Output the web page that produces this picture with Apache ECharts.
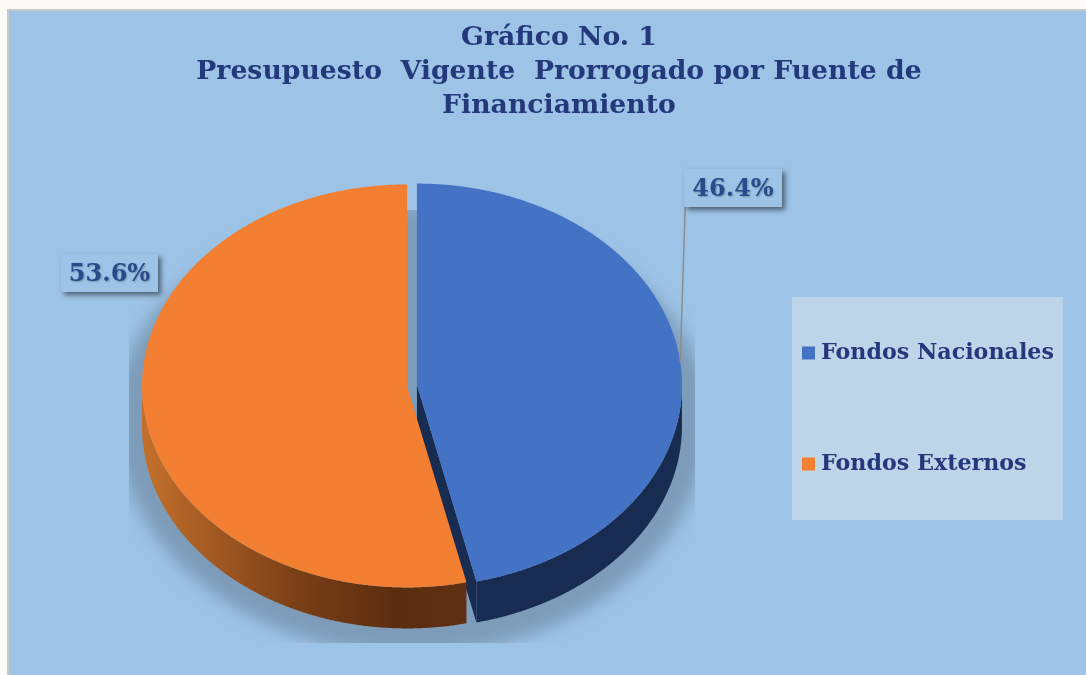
<!DOCTYPE html>
<html>
<head>
<meta charset="utf-8">
<style>html,body{margin:0;padding:0;background:#fcfbf7}#c{width:1086px;height:675px}</style>
<script src="https://cdn.jsdelivr.net/npm/echarts@6/dist/echarts.min.js"></script>
</head>
<body>
<div id="c"></div>
<script>
const titleLines = ['Gráfico No. 1', 'Presupuesto  Vigente  Prorrogado por Fuente de', 'Financiamiento'];
const categories = ['Fondos Nacionales', 'Fondos Externos'];
const values = [46.4, 53.6];
const colors = ['#4472C4', '#F27F32'];

const SERIF = 'Georgia, "DejaVu Serif", serif';
const INK = '#24387C';
const PIE = {cx: 412, cy: 385.5, rx: 265, ry: 201.5, depth: 41, explode: 5};
const TOTAL = values.reduce((a, b) => a + b, 0);
const RAD = Math.PI / 180;

function sliceAngles(i) {
  let s = 0;
  for (let k = 0; k < i; k++) s += values[k];
  return [s / TOTAL * 360, (s + values[i]) / TOTAL * 360];
}
function sliceCenter(a0, a1) {
  const m = (a0 + a1) / 2 * RAD;
  return [PIE.cx + PIE.explode * Math.sin(m), PIE.cy - PIE.explode * Math.cos(m) * PIE.ry / PIE.rx];
}
function rimPoint(c, deg, dy) {
  return [c[0] + PIE.rx * Math.sin(deg * RAD), c[1] - PIE.ry * Math.cos(deg * RAD) + (dy || 0)];
}
function arc(c, a0, a1, dy) {
  const pts = [], n = Math.max(2, Math.ceil((a1 - a0) * 3));
  for (let i = 0; i <= n; i++) pts.push(rimPoint(c, a0 + (a1 - a0) * i / n, dy));
  return pts;
}
function wall(c, a0, a1) {
  const from = Math.max(a0, 90), to = Math.min(a1, 270);
  return arc(c, from, to, 0).concat(arc(c, from, to, PIE.depth).reverse());
}
function valueBox(text, box, fill) {
  return [
    {type: 'rect', shape: {x: box[0], y: box[1], width: box[2], height: box[3]},
     style: {fill: '#9DC3E6', shadowColor: 'rgba(0,0,0,0.5)', shadowBlur: 5, shadowOffsetX: 3, shadowOffsetY: 3}},
    {type: 'text', x: box[0] + box[2] / 2, y: box[1] + box[3] / 2 + 1.5,
     style: {text: text, fill: fill, font: 'bold 24px ' + SERIF, align: 'center', verticalAlign: 'middle',
             textShadowColor: 'rgba(0,0,0,0.25)', textShadowBlur: 2, textShadowOffsetX: 1, textShadowOffsetY: 1}}
  ];
}

const wallFills = [
  '#182B50',
  new echarts.graphic.LinearGradient(0, 0, 1, 0, [
    {offset: 0, color: '#C4702C'}, {offset: 0.48, color: '#7A3F16'},
    {offset: 0.78, color: '#5B2D0F'}, {offset: 1, color: '#5F3011'}])
];
const LABEL_BOX = [[684, 169, 98, 38], [61, 254, 97, 38]];

function renderSlice(i) {
  return function (params, api) {
    const [a0, a1] = sliceAngles(i);
    const c = sliceCenter(a0, a1);
    const kids = [];
    if (i === 0) {
      const tip = rimPoint(c, a1, 0);
      kids.push({type: 'polygon', shape: {points: [c, tip, [tip[0], tip[1] + PIE.depth], [c[0], c[1] + PIE.depth]]},
                 style: {fill: wallFills[0]}});
    }
    kids.push({type: 'polygon', shape: {points: wall(c, a0, a1)}, style: {fill: wallFills[i]}});
    kids.push({type: 'polygon', shape: {points: [c].concat(arc(c, a0, a1, 0))}, style: {fill: colors[i]}});
    if (i === 0) {
      const end = rimPoint(c, 83.4, 0);
      kids.push({type: 'line', shape: {x1: 685.5, y1: 197, x2: end[0], y2: end[1]},
                 style: {stroke: '#8C8C8C', lineWidth: 1.5}});
    }
    valueBox(api.value(0).toFixed(1) + '%', LABEL_BOX[i], '#2A4A8C').forEach(k => kids.push(k));
    return {type: 'group', children: kids};
  };
}
const FAR = 3000;
function renderShadow() {
  const pts = [];
  for (let d = 0; d < 360; d += 1) {
    const s = Math.sin(d * RAD), co = Math.cos(d * RAD);
    pts.push([PIE.cx - FAR + 296 * s, 418 - (co > 0 ? 212 : 236) * co]);
  }
  return {
    type: 'polygon',
    shape: {points: pts},
    style: {fill: '#7D9CB9', shadowColor: '#7D9CB9', shadowBlur: 16, shadowOffsetX: FAR},
    clipPath: {type: 'rect', shape: {x: 129, y: 210, width: 566, height: 433}}
  };
}

const chart = echarts.init(document.getElementById('c'), null, {renderer: 'canvas'});
chart.setOption({
  animation: false,
  backgroundColor: '#FCFBF7',
  graphic: [{type: 'rect', silent: true, z: 0,
    shape: {x: 8, y: 10, width: 1090, height: 680},
    style: {fill: '#9DC3E6', stroke: '#C9C9C9', lineWidth: 2}}],
  title: {
    text: titleLines.join('\n'), left: 554, top: 16, textAlign: 'center',
    textStyle: {fontFamily: SERIF, fontWeight: 'bold', fontSize: 26.7, lineHeight: 34, color: INK}
  },
  legend: {
    data: categories, orient: 'vertical', left: 792, top: 297, icon: 'rect',
    itemWidth: 13, itemHeight: 13, itemGap: 89, padding: [45, 9, 45, 10],
    backgroundColor: '#BDD4E9', selectedMode: false,
    textStyle: {fontFamily: SERIF, fontWeight: 'bold', fontSize: 22.2, lineHeight: 22, color: INK, padding: [0, 0, 0, 1]}
  },
  series: [
    {type: 'custom', name: 'sombra', coordinateSystem: 'none', silent: true, data: [[1]], renderItem: renderShadow},
    {type: 'custom', name: categories[0], coordinateSystem: 'none', silent: true, data: [[values[0]]],
     itemStyle: {color: colors[0]}, renderItem: renderSlice(0)},
    {type: 'custom', name: categories[1], coordinateSystem: 'none', silent: true, data: [[values[1]]],
     itemStyle: {color: colors[1]}, renderItem: renderSlice(1)}
  ]
});
</script>
</body>
</html>
